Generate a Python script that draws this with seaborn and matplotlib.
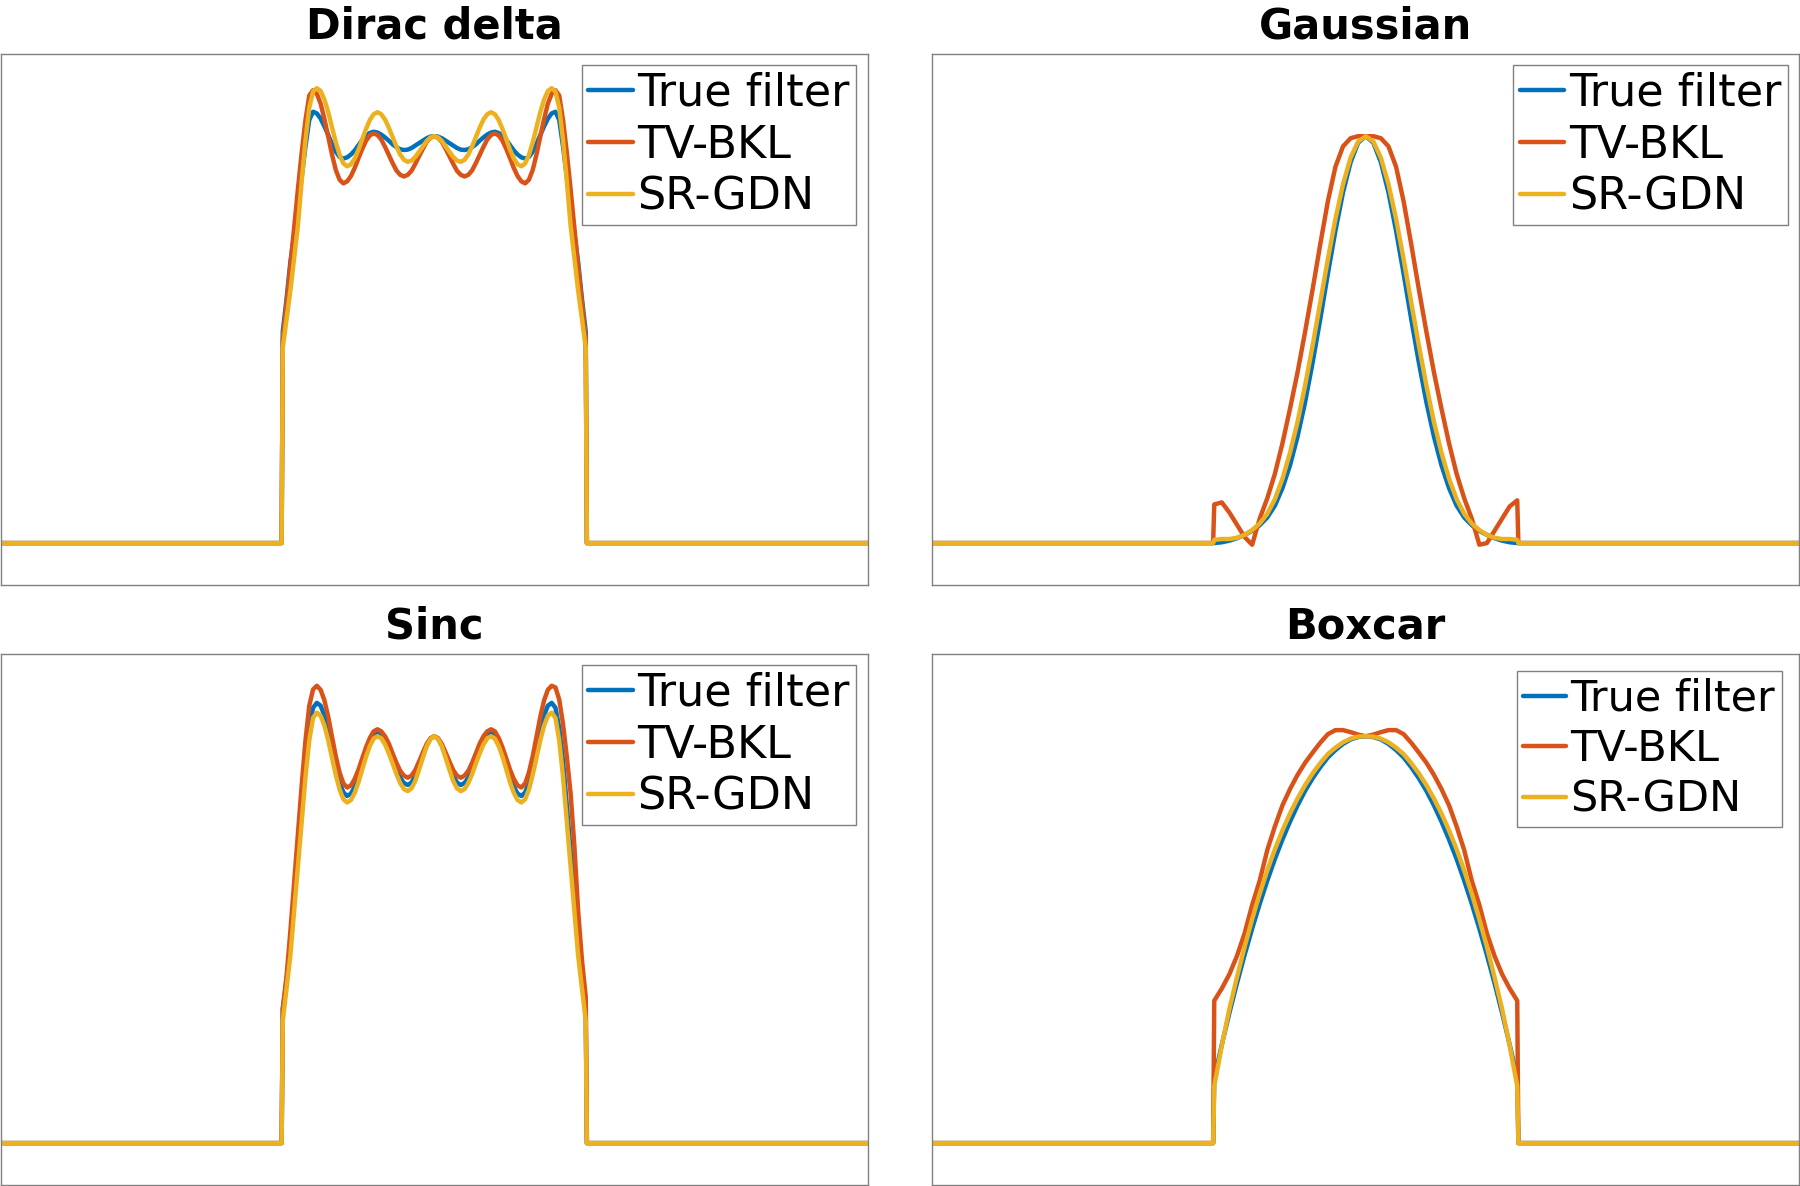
import pandas as pd
import seaborn as sns
import matplotlib.pyplot as plt

# filter tap index: support is -20..20, zero outside.
# Dirac / Sinc are read every half tap, Gaussian / Boxcar every tap.
k_half = [i / 2 for i in range(-40, 41)]
k_full = list(range(-20, 21))

titles = ["Dirac delta", "Gaussian", "Sinc", "Boxcar"]
methods = ["True filter", "TV-BKL", "SR-GDN"]
colors = ["#0072BD", "#D95319", "#EDB120"]

# ---- values ----
dirac_true = [0.52, 0.60, 0.69, 0.76, 0.83, 0.90, 0.975, 1.04, 1.060, 1.056, 1.043, 1.024, 1.003, 0.981,
              0.962, 0.949, 0.945, 0.948, 0.955, 0.965, 0.978, 0.991, 1.001, 1.008, 1.011, 1.009, 1.004,
              0.997, 0.989, 0.980, 0.973, 0.968, 0.966, 0.967, 0.971, 0.977, 0.983, 0.989, 0.995, 0.999,
              1.000,
              0.999, 0.995, 0.989, 0.983, 0.977, 0.971, 0.967, 0.966, 0.968, 0.973, 0.980, 0.989, 0.997,
              1.004, 1.009, 1.011, 1.008, 1.001, 0.991, 0.978, 0.965, 0.955, 0.948, 0.945, 0.949, 0.962,
              0.981, 1.003, 1.024, 1.043, 1.056, 1.060, 1.04, 0.975, 0.90, 0.83, 0.76, 0.69, 0.60, 0.52]
dirac_tv = [0.50, 0.59, 0.68, 0.775, 0.87, 0.96, 1.04, 1.10, 1.113, 1.104, 1.080, 1.042, 0.999, 0.955,
            0.917, 0.893, 0.884, 0.889, 0.902, 0.922, 0.946, 0.969, 0.989, 1.002, 1.007, 1.003, 0.992,
            0.974, 0.954, 0.934, 0.916, 0.905, 0.901, 0.905, 0.915, 0.932, 0.951, 0.969, 0.986, 0.996,
            1.000,
            0.996, 0.986, 0.969, 0.951, 0.932, 0.915, 0.905, 0.901, 0.905, 0.916, 0.934, 0.954, 0.974,
            0.992, 1.003, 1.007, 1.002, 0.989, 0.969, 0.946, 0.922, 0.902, 0.889, 0.884, 0.893, 0.917,
            0.955, 0.999, 1.042, 1.080, 1.104, 1.113, 1.10, 1.04, 0.96, 0.87, 0.775, 0.68, 0.59, 0.50]
dirac_sr = [0.48, 0.55, 0.62, 0.70, 0.78, 0.89, 0.99, 1.07, 1.11, 1.118, 1.111, 1.090, 1.059, 1.022,
            0.985, 0.954, 0.933, 0.926, 0.931, 0.945, 0.967, 0.993, 1.018, 1.040, 1.054, 1.059, 1.054,
            1.041, 1.021, 0.998, 0.975, 0.955, 0.942, 0.937, 0.940, 0.949, 0.962, 0.975, 0.988, 0.997,
            1.000,
            0.997, 0.988, 0.975, 0.962, 0.949, 0.940, 0.937, 0.942, 0.955, 0.975, 0.998, 1.021, 1.041,
            1.054, 1.059, 1.054, 1.040, 1.018, 0.993, 0.967, 0.945, 0.931, 0.926, 0.933, 0.954, 0.985,
            1.022, 1.059, 1.090, 1.111, 1.118, 1.11, 1.07, 0.99, 0.89, 0.78, 0.70, 0.62, 0.55, 0.48]

sinc_true = [0.33, 0.40, 0.49, 0.60, 0.72, 0.83, 0.94, 1.02, 1.07, 1.082, 1.075, 1.051, 1.013, 0.968,
             0.924, 0.886, 0.862, 0.853, 0.859, 0.876, 0.900, 0.931, 0.961, 0.986, 1.003, 1.009, 1.004,
             0.990, 0.969, 0.945, 0.920, 0.898, 0.885, 0.880, 0.886, 0.903, 0.927, 0.953, 0.977, 0.994,
             1.000,
             0.994, 0.977, 0.953, 0.927, 0.903, 0.886, 0.880, 0.885, 0.898, 0.920, 0.945, 0.969, 0.990,
             1.004, 1.009, 1.003, 0.986, 0.961, 0.931, 0.900, 0.876, 0.859, 0.853, 0.862, 0.886, 0.924,
             0.968, 1.013, 1.051, 1.075, 1.082, 1.07, 1.02, 0.94, 0.83, 0.72, 0.60, 0.49, 0.40, 0.33]
sinc_tv = [0.33, 0.41, 0.52, 0.64, 0.76, 0.88, 0.99, 1.075, 1.115, 1.124, 1.114, 1.088, 1.048, 0.999,
           0.951, 0.911, 0.884, 0.874, 0.879, 0.895, 0.918, 0.946, 0.973, 0.996, 1.012, 1.017, 1.012,
           1.000, 0.982, 0.958, 0.935, 0.915, 0.903, 0.898, 0.903, 0.917, 0.938, 0.960, 0.981, 0.995,
           1.000,
           0.995, 0.981, 0.960, 0.938, 0.917, 0.903, 0.898, 0.903, 0.915, 0.935, 0.958, 0.982, 1.000,
           1.012, 1.017, 1.012, 0.996, 0.973, 0.946, 0.918, 0.895, 0.879, 0.874, 0.884, 0.911, 0.951,
           0.999, 1.048, 1.088, 1.114, 1.124, 1.12, 1.09, 1.03, 0.95, 0.86, 0.73, 0.57, 0.45, 0.36]
sinc_sr = [0.30, 0.38, 0.46, 0.57, 0.68, 0.79, 0.90, 0.99, 1.045, 1.058, 1.050, 1.026, 0.990, 0.947,
           0.905, 0.869, 0.845, 0.837, 0.843, 0.861, 0.887, 0.919, 0.950, 0.976, 0.994, 1.000, 0.995,
           0.980, 0.958, 0.933, 0.907, 0.885, 0.870, 0.865, 0.872, 0.890, 0.918, 0.947, 0.975, 0.993,
           1.000,
           0.993, 0.975, 0.947, 0.918, 0.890, 0.872, 0.865, 0.870, 0.885, 0.907, 0.933, 0.958, 0.980,
           0.995, 1.000, 0.994, 0.976, 0.950, 0.919, 0.887, 0.861, 0.843, 0.837, 0.845, 0.869, 0.905,
           0.947, 0.990, 1.026, 1.050, 1.058, 1.045, 0.99, 0.90, 0.79, 0.68, 0.57, 0.46, 0.38, 0.30]

gauss_true = [0.0, 0.002, 0.006, 0.012, 0.020, 0.030, 0.044, 0.063, 0.092, 0.135, 0.191, 0.262, 0.347, 0.445,
              0.551, 0.662, 0.768, 0.862, 0.936, 0.984, 1.0, 0.984, 0.936, 0.862, 0.768, 0.662, 0.551,
              0.445, 0.347, 0.262, 0.191, 0.135, 0.092, 0.063, 0.044, 0.030, 0.020, 0.012, 0.006, 0.002, 0.0]
gauss_tv = [0.095, 0.10, 0.075, 0.045, 0.015, -0.004, 0.06, 0.11, 0.17, 0.245, 0.33, 0.42, 0.52, 0.625,
            0.735, 0.84, 0.925, 0.975, 0.995, 1.0, 1.0, 1.0, 0.995, 0.975, 0.925, 0.84, 0.735, 0.625, 0.52,
            0.42, 0.33, 0.245, 0.17, 0.11, 0.06, -0.004, 0.0, 0.03, 0.06, 0.09, 0.105]
gauss_sr = [0.008, 0.01, 0.01, 0.013, 0.02, 0.032, 0.048, 0.072, 0.108, 0.158, 0.222, 0.298, 0.388, 0.487,
            0.592, 0.698, 0.797, 0.882, 0.947, 0.987, 1.0, 0.987, 0.947, 0.882, 0.797, 0.698, 0.592,
            0.487, 0.388, 0.298, 0.222, 0.158, 0.108, 0.072, 0.048, 0.032, 0.02, 0.013, 0.01, 0.01, 0.008]

box_true = [0.160, 0.242, 0.320, 0.393, 0.462, 0.527, 0.588, 0.645, 0.698, 0.746, 0.790, 0.830, 0.866, 0.897,
            0.924, 0.948, 0.966, 0.981, 0.992, 0.998, 1.0, 0.998, 0.992, 0.981, 0.966, 0.948, 0.924, 0.897,
            0.866, 0.830, 0.790, 0.746, 0.698, 0.645, 0.588, 0.527, 0.462, 0.393, 0.320, 0.242, 0.160]
box_tv = [0.35, 0.38, 0.415, 0.46, 0.515, 0.585, 0.645, 0.72, 0.778, 0.83, 0.87, 0.905, 0.935, 0.96, 0.984,
          1.005, 1.015, 1.015, 1.01, 1.004, 1.0, 1.004, 1.01, 1.015, 1.015, 1.005, 0.984, 0.96, 0.935, 0.905,
          0.87, 0.83, 0.778, 0.72, 0.645, 0.585, 0.515, 0.46, 0.415, 0.38, 0.35]
box_sr = [0.14, 0.24, 0.33, 0.408, 0.482, 0.55, 0.613, 0.67, 0.722, 0.768, 0.81, 0.847, 0.88, 0.909, 0.934,
          0.956, 0.972, 0.985, 0.994, 0.999, 1.0, 0.999, 0.994, 0.985, 0.972, 0.956, 0.934, 0.909, 0.88,
          0.847, 0.81, 0.768, 0.722, 0.67, 0.613, 0.55, 0.482, 0.408, 0.33, 0.24, 0.14]

series = {
    "Dirac delta": (k_half, [dirac_true, dirac_tv, dirac_sr]),
    "Gaussian": (k_full, [gauss_true, gauss_tv, gauss_sr]),
    "Sinc": (k_half, [sinc_true, sinc_tv, sinc_sr]),
    "Boxcar": (k_full, [box_true, box_tv, box_sr]),
}

# long-form table, padded with zeros outside the support
rows = []
for t in titles:
    kk, curves = series[t]
    xs = [-60.0, -20.15] + kk + [20.15, 60.0]
    for m, vals in zip(methods, curves):
        for xv, yv in zip(xs, [0.0, 0.0] + vals + [0.0, 0.0]):
            rows.append({"panel": t, "method": m, "x": xv, "value": yv})
df = pd.DataFrame(rows)

sns.set_theme(style="white")
plt.rcParams['font.family'] = ['DejaVu Sans']
plt.rcParams['text.color'] = 'black'

fig, axes = plt.subplots(2, 2, figsize=(18, 11.86), dpi=100)
plt.subplots_adjust(left=1 / 1800, right=1799 / 1800, bottom=1 / 1186, top=1 - 54 / 1186,
                    wspace=0.075, hspace=0.13)

for ax, t in zip(axes.flat, titles):
    sns.lineplot(data=df[df["panel"] == t], x="x", y="value", hue="method", hue_order=methods,
                 palette=colors, estimator=None, sort=False, lw=3.2, legend=False, ax=ax)
    ax.set_xlim(-57.2, 57.2)
    ax.set_ylim(-0.103, 1.202)
    ax.set_xticks([])
    ax.set_yticks([])
    ax.set_xlabel("")
    ax.set_ylabel("")
    ax.set_title(t, fontsize=30, fontweight="bold", pad=11, color="black")
    for s in ax.spines.values():
        s.set_color("#808080")
        s.set_linewidth(1.0)
    # the Boxcar legend sits a little lower and is a touch smaller
    small = t == "Boxcar"
    leg = ax.legend(ax.lines, methods, loc="upper right", fontsize=31 if small else 32, frameon=True,
                    fancybox=False, edgecolor="#808080", framealpha=1, handlelength=1.0,
                    handletextpad=0.1, borderpad=0.15, labelspacing=0.2,
                    borderaxespad=0.4 if small else 0.25)
    leg.get_frame().set_linewidth(1.0)

plt.savefig("out.png", dpi=100)
